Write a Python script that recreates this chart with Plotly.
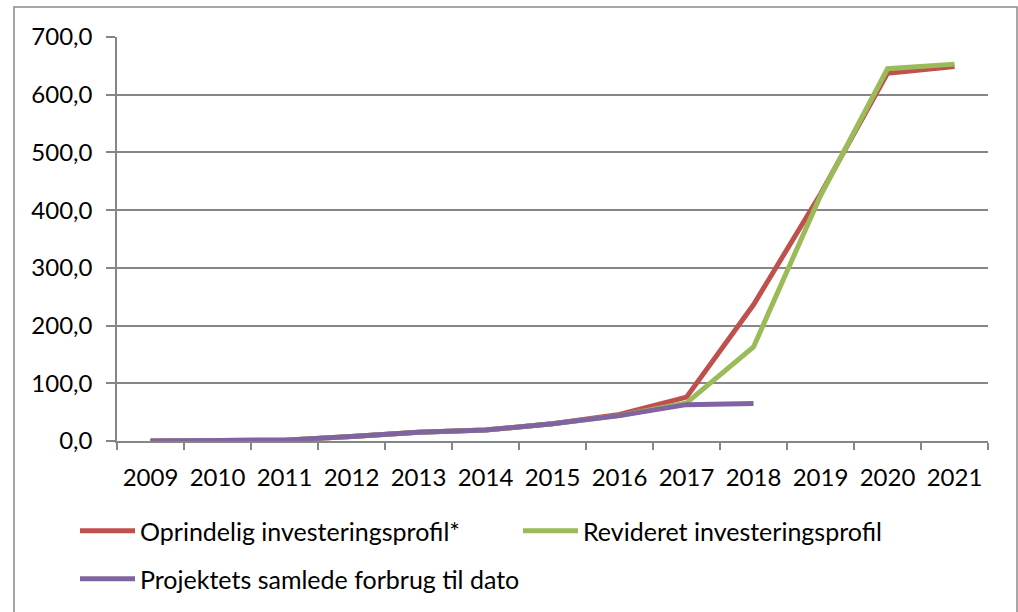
import plotly.graph_objects as go

years = [str(y) for y in range(2009, 2022)]
oprindelig = [0, 1, 1.5, 8, 15, 19, 30, 46, 76, 236, 428, 637, 649]
revideret = [0, 1, 1.5, 8, 15, 19, 30, 44, 66, 163, 425, 645, 653]
forbrug = [0, 1, 1.5, 8, 15, 19, 30, 44, 63, 65]

names = ["Oprindelig investeringsprofil*", "Revideret investeringsprofil",
         "Projektets samlede forbrug til dato"]
colors = ["#C0504D", "#9BBB59", "#8064A2"]
yticks = [0, 100, 200, 300, 400, 500, 600, 700]
ytick_text = [f"{v:.1f}".replace(".", ",") for v in yticks]

FONT = "Lato"
fig = go.Figure()
fig.add_trace(go.Scatter(x=years, y=oprindelig, mode="lines", name=names[0],
                         line=dict(color=colors[0], width=5), legend="legend",
                         showlegend=True))
fig.add_trace(go.Scatter(x=years, y=revideret, mode="lines", name=names[1],
                         line=dict(color=colors[1], width=5), legend="legend2",
                         showlegend=True))
fig.add_trace(go.Scatter(x=years[:len(forbrug)], y=forbrug, mode="lines", name=names[2],
                         line=dict(color=colors[2], width=5), legend="legend3",
                         showlegend=True))

L, R, T, B = 117, 30, 37, 171
W, H = 1018, 612
pw, ph = W - L - R, H - T - B

def px(x):
    return (x - L) / pw

def py(y):
    return (H - B - y) / ph

def cx(x):
    return x / W

def cy(y):
    return 1 - y / H

def leg(x, y):
    return dict(orientation="h", xref="container", yref="container",
                x=cx(x), y=cy(y), xanchor="left", yanchor="middle",
                itemwidth=55, bgcolor="rgba(0,0,0,0)",
                font=dict(family=FONT, size=25, color="black"))

fig.update_layout(
    width=W, height=H, showlegend=True,
    margin=dict(l=L, r=R, t=T, b=B, pad=0, autoexpand=False),
    paper_bgcolor="white", plot_bgcolor="white",
    font=dict(family=FONT, size=24, color="black"),
    xaxis=dict(type="category", range=[-0.5, len(years) - 0.5], tickson="boundaries",
               ticks="outside", ticklen=7,
               tickcolor="#868686", tickwidth=1.5, showline=True, linecolor="#868686",
               linewidth=1.5, showgrid=False, ticklabelstandoff=14,
               tickfont=dict(family=FONT, size=24)),
    yaxis=dict(range=[0, 700], tickvals=yticks, ticktext=ytick_text, ticks="outside",
               ticklen=9, tickcolor="#868686", tickwidth=1.5, showline=True,
               linecolor="#868686", linewidth=1.5, showgrid=True, gridcolor="#868686",
               gridwidth=1.5, zeroline=False, ticklabelstandoff=9,
               tickfont=dict(family=FONT, size=24)),
    legend=leg(75, 531),
    legend2=leg(518, 531),
    legend3=leg(75, 579),
    shapes=[dict(type="rect", xref="paper", yref="paper",
                 x0=px(14), x1=px(1017), y0=py(625), y1=py(7),
                 line=dict(color="#8a8a8a", width=1.5), layer="below")],
)

fig.write_html("out.html", config={"displayModeBar": False},
               post_script="document.body.style.margin='0px';")
